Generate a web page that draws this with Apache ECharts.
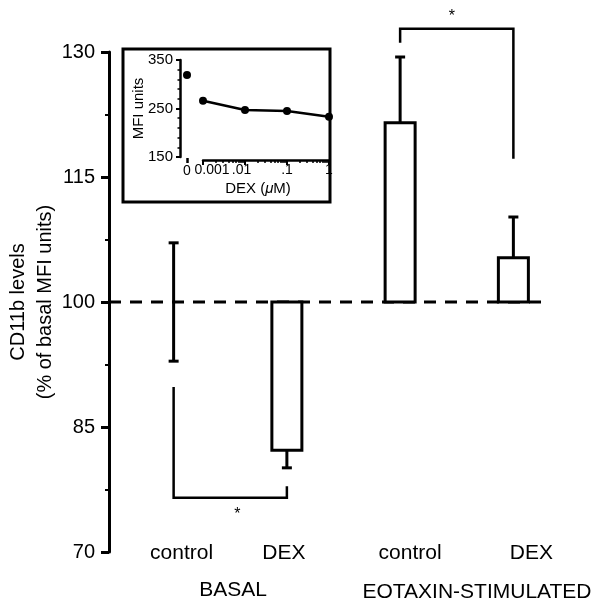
<!DOCTYPE html>
<html>
<head>
<meta charset="utf-8">
<script src="https://cdn.jsdelivr.net/npm/echarts@6/dist/echarts.min.js"></script>
<style>
html, body { margin: 0; padding: 0; background: #fff; }
#main { width: 594px; height: 603px; }
</style>
</head>
<body>
<div id="main"></div>
<script>
// main panel
var categories = ['control', 'DEX', 'control', 'DEX'];
var groups = ['BASAL', 'EOTAXIN-STIMULATED'];
var means = [100, 82.2, 121.5, 105.3];
var sems = [7.1, 2.1, 7.9, 4.9];
// significance brackets (bar index from/to, level, leg ends)
var bracketFrom = [0, 2];
var bracketTo = [1, 3];
var bracketLevel = [76.5, 132.8];
var bracketLeftEnd = [89.8, 131.1];
var bracketRightEnd = [77.9, 117.2];
// inset panel
var insetZeroLabel = ['0'];
var insetZeroMFI = [319];
var insetDose = [0.001, 0.01, 0.1, 1];
var insetDoseLabels = ['0.001', '.01', '.1', '1'];
var insetMFI = [266, 247, 245, 233];
var insetMinorTicks = [0.002, 0.003, 0.004, 0.005, 0.006, 0.007, 0.008, 0.009,
  0.02, 0.03, 0.04, 0.05, 0.06, 0.07, 0.08, 0.09,
  0.2, 0.3, 0.4, 0.5, 0.6, 0.7, 0.8, 0.9];

var FONT = '"Liberation Sans", Arial, Helvetica, sans-serif';
var chart = echarts.init(document.getElementById('main'));

var barData = means.map(function (m, i) { return [i, m, sems[i]]; });
var bracketData = bracketFrom.map(function (f, i) {
  return [f, bracketTo[i], bracketLevel[i], bracketLeftEnd[i], bracketRightEnd[i]];
});

function renderBar(params, api) {
  var i = api.value(0), m = api.value(1), s = api.value(2);
  var base = api.coord([i, 100]);
  var top = api.coord([i, m]);
  var w = 30, cap = 10;
  var kids = [];
  if (m >= 100) {
    var p1 = api.coord([i, m + s]);
    kids.push({ type: 'line', shape: { x1: top[0], y1: top[1], x2: p1[0], y2: p1[1] }, style: { stroke: '#000', lineWidth: 3 } });
    kids.push({ type: 'line', shape: { x1: p1[0] - cap / 2, y1: p1[1], x2: p1[0] + cap / 2, y2: p1[1] }, style: { stroke: '#000', lineWidth: 3 } });
  }
  if (m <= 100) {
    var p2 = api.coord([i, m - s]);
    kids.push({ type: 'line', shape: { x1: top[0], y1: top[1], x2: p2[0], y2: p2[1] }, style: { stroke: '#000', lineWidth: 3 } });
    kids.push({ type: 'line', shape: { x1: p2[0] - cap / 2, y1: p2[1], x2: p2[0] + cap / 2, y2: p2[1] }, style: { stroke: '#000', lineWidth: 3 } });
  }
  if (m !== 100) {
    kids.push({
      type: 'rect',
      shape: { x: base[0] - w / 2, y: Math.min(base[1], top[1]), width: w, height: Math.abs(top[1] - base[1]) },
      style: { fill: '#fff', stroke: '#000', lineWidth: 3 }
    });
  }
  return { type: 'group', children: kids };
}

function renderBracket(params, api) {
  var a = api.coord([api.value(0), api.value(2)]);
  var b = api.coord([api.value(1), api.value(2)]);
  var l = api.coord([api.value(0), api.value(3)]);
  var r = api.coord([api.value(1), api.value(4)]);
  var below = api.value(3) > api.value(2);
  return {
    type: 'group',
    children: [
      { type: 'polyline', shape: { points: [[l[0], l[1]], a, b, [r[0], r[1]]] }, style: { fill: 'none', stroke: '#000', lineWidth: 2.5 } },
      { type: 'text', x: (a[0] + b[0]) / 2 + (below ? 7 : -5), y: a[1] + (below ? 17 : -12),
        style: { text: '*', font: '16px ' + FONT, fill: '#000', align: 'center', verticalAlign: 'middle' } }
    ]
  };
}

function renderRef(params, api) {
  var cs = params.coordSys;
  var p = api.coord([api.value(0), api.value(1)]);
  var end = api.coord([categories.length - 1, 100]);
  return {
    type: 'line',
    shape: { x1: cs.x - 8, y1: p[1], x2: end[0] + 34, y2: p[1] },
    style: { stroke: '#000', lineWidth: 3, lineDash: [12, 9] }
  };
}

function doseLabel(v) {
  var i = Math.round(Math.log(v) / Math.LN10) + 3;
  var t = insetDoseLabels[i];
  if (i === 0) return '{a|' + t + '}';
  if (i === 1) return '{b|' + t + '}';
  return '{c|' + t + '}';
}
var doseRich = {
  a: { fontSize: 14, fontFamily: FONT, color: '#000', padding: [0, 0, 0, 18] },
  b: { fontSize: 14, fontFamily: FONT, color: '#000', padding: [0, 7, 0, 0] },
  c: { fontSize: 14, fontFamily: FONT, color: '#000' }
};

// labels in the original sit a little off the bar centres
var catPad = [[0, 0, 0, 16], [0, 6, 0, 0], [0, 0, 0, 20], [0, 0, 0, 36]];
var catRich = {};
catPad.forEach(function (p, i) {
  catRich['k' + i] = { fontSize: 21, fontFamily: FONT, color: '#000', padding: p };
});

var option = {
  animation: false,
  backgroundColor: '#fff',
  textStyle: { fontFamily: FONT, color: '#000' },
  grid: [
    { left: 117, right: 24, top: 52, bottom: 51, outerBoundsMode: 'none' },
    { left: 180, top: 60, width: 14, height: 97, outerBoundsMode: 'none' },
    { left: 203, top: 60, width: 126, height: 97, outerBoundsMode: 'none' }
  ],
  xAxis: [
    {
      type: 'category', gridIndex: 0, data: categories,
      axisLine: { show: false }, axisTick: { show: false },
      axisLabel: {
        margin: -9, interval: 0, rich: catRich,
        formatter: function (v, i) { return '{k' + i + '|' + v + '}'; }
      }
    },
    {
      type: 'category', gridIndex: 1, data: insetZeroLabel, offset: 1,
      axisLine: { show: false },
      axisTick: { show: true, alignWithLabel: true, length: 5, lineStyle: { color: '#000', width: 2.5 } },
      axisLabel: { margin: 6, fontSize: 14, color: '#000', fontFamily: FONT }
    },
    {
      type: 'log', gridIndex: 2, logBase: 10, min: 0.001, max: 1, offset: 3, position: 'bottom',
      axisLine: { lineStyle: { color: '#000', width: 2.5 } },
      axisTick: { length: 5, lineStyle: { color: '#000', width: 2 } },
      splitLine: { show: false },
      axisLabel: {
        margin: 3, formatter: doseLabel, rich: doseRich,
        customValues: [insetDose[0], insetDose[2], insetDose[3]]
      },
      name: 'DEX ({i|μ}M)', nameLocation: 'middle', nameGap: 21,
      nameTextStyle: {
        fontSize: 15, fontFamily: FONT, color: '#000', padding: [0, 16, 0, 0],
        rich: { i: { fontSize: 15, fontFamily: FONT, fontStyle: 'italic', color: '#000' } }
      }
    },
    {
      type: 'log', gridIndex: 2, logBase: 10, min: 0.001, max: 1, offset: 3, position: 'bottom',
      axisLine: { show: false },
      axisTick: { length: 3, customValues: insetMinorTicks, lineStyle: { color: '#000', width: 1.5 } },
      axisLabel: { margin: 3, formatter: doseLabel, rich: doseRich, customValues: [insetDose[1]] },
      splitLine: { show: false }
    }
  ],
  yAxis: [
    {
      type: 'value', gridIndex: 0, min: 70, max: 130, interval: 15, offset: 8,
      axisLine: { show: true, lineStyle: { color: '#000', width: 3 } },
      axisTick: { show: true, length: 8, lineStyle: { color: '#000', width: 3 } },
      minorTick: { show: true, splitNumber: 2, length: 4, lineStyle: { color: '#000', width: 2 } },
      splitLine: { show: false },
      axisLabel: { margin: 14, fontSize: 20, color: '#000', fontFamily: FONT },
      name: 'CD11b levels\n(% of basal MFI units)', nameLocation: 'middle', nameRotate: 90,
      nameGap: 50, nameMoveOverlap: false,
      nameTextStyle: { fontSize: 20, lineHeight: 27, fontFamily: FONT, color: '#000' }
    },
    {
      type: 'value', gridIndex: 1, min: 150, max: 350, interval: 100,
      axisLine: { show: true, lineStyle: { color: '#000', width: 2.5 } },
      axisTick: { show: true, length: 4, lineStyle: { color: '#000', width: 2 } },
      minorTick: { show: true, splitNumber: 5, length: 2.5, lineStyle: { color: '#000', width: 1.5 } },
      splitLine: { show: false },
      axisLabel: { margin: 7, fontSize: 15, color: '#000', fontFamily: FONT },
      name: 'MFI units', nameLocation: 'middle', nameRotate: 90, nameGap: 34, nameMoveOverlap: false,
      nameTextStyle: { fontSize: 15, fontFamily: FONT, color: '#000' }
    },
    {
      type: 'value', gridIndex: 2, min: 150, max: 350, show: false
    }
  ],
  graphic: [
    { type: 'rect', shape: { x: 123, y: 49, width: 207, height: 153 }, style: { fill: 'none', stroke: '#000', lineWidth: 3 } },
    { type: 'text', x: 233, y: 590, style: { text: groups[0], font: '21px ' + FONT, fill: '#000', align: 'center', verticalAlign: 'middle' } },
    { type: 'text', x: 477, y: 592, style: { text: groups[1], font: '21px ' + FONT, fill: '#000', align: 'center', verticalAlign: 'middle' } }
  ],
  series: [
    { type: 'custom', xAxisIndex: 0, yAxisIndex: 0, data: [[0, 100]], renderItem: renderRef, z: 1 },
    { type: 'custom', xAxisIndex: 0, yAxisIndex: 0, data: barData, renderItem: renderBar, z: 2 },
    { type: 'custom', xAxisIndex: 0, yAxisIndex: 0, data: bracketData, renderItem: renderBracket, clip: false, z: 3 },
    {
      type: 'scatter', xAxisIndex: 1, yAxisIndex: 1, symbolSize: 8,
      itemStyle: { color: '#000', opacity: 1 },
      data: insetZeroLabel.map(function (c, i) { return [c, insetZeroMFI[i]]; })
    },
    {
      type: 'line', xAxisIndex: 2, yAxisIndex: 2, symbol: 'circle', symbolSize: 8,
      lineStyle: { color: '#000', width: 2.5 }, itemStyle: { color: '#000' },
      data: insetDose.map(function (d, i) { return [d, insetMFI[i]]; })
    }
  ]
};

chart.setOption(option);
</script>
</body>
</html>
